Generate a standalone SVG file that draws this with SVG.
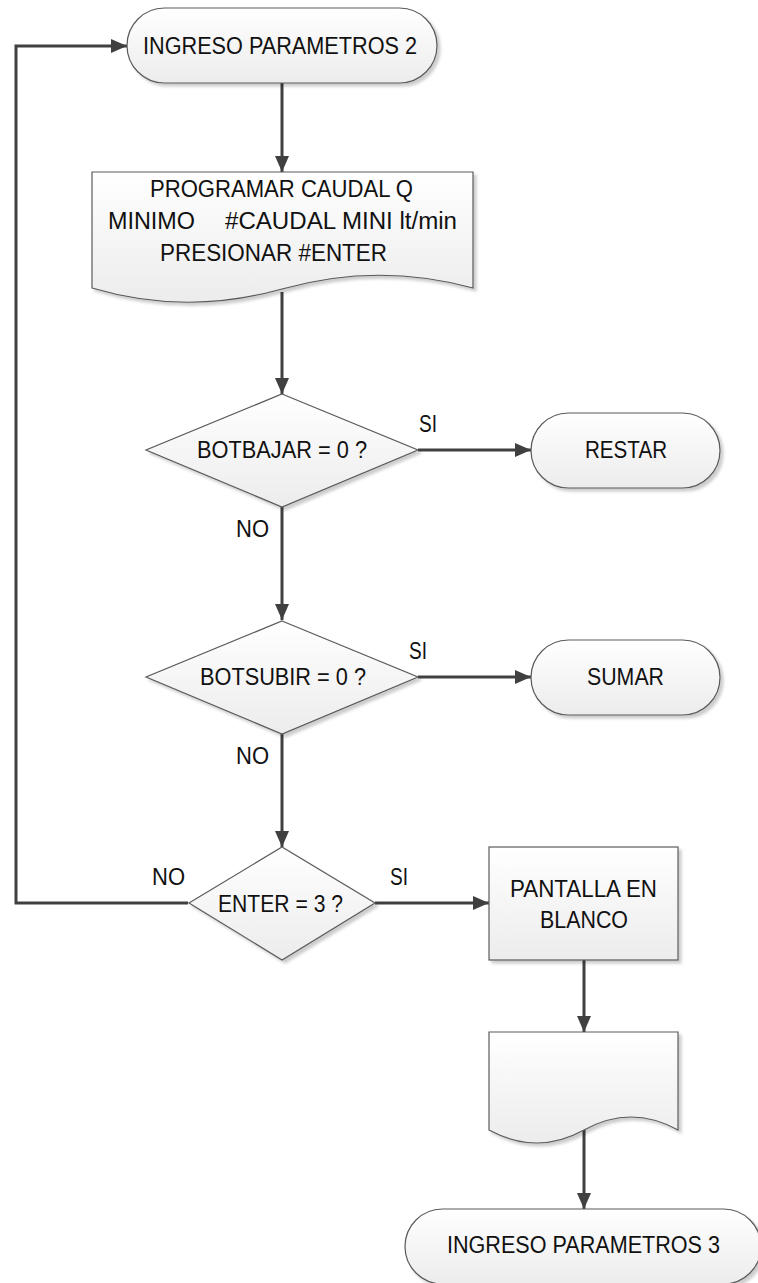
<svg xmlns="http://www.w3.org/2000/svg" width="758" height="1283" viewBox="0 0 758 1283">
  <style>
    .shape { fill: url(#fillGrad); stroke: #5a5a5a; stroke-width: 1.2; filter: url(#shadow); }
    .lbl { font-family: "Liberation Sans", Arial, sans-serif; font-size: 23.5px; fill: #111; }
    .conn { fill: none; stroke: #404040; stroke-width: 3; }
    .arrow { marker-end: url(#arrowHead); }
  </style>
  <defs>
    <linearGradient id="fillGrad" x1="0" y1="0" x2="0" y2="1">
      <stop offset="0" stop-color="#ffffff"/>
      <stop offset="1" stop-color="#ececec"/>
    </linearGradient>
    <filter id="shadow" x="-10%" y="-10%" width="130%" height="130%">
      <feDropShadow dx="3" dy="3" stdDeviation="1.5" flood-color="#000" flood-opacity="0.2"/>
    </filter>
    <marker id="arrowHead" viewBox="0 0 16 14" refX="16" refY="7" markerWidth="16" markerHeight="14" markerUnits="userSpaceOnUse" orient="auto">
      <path d="M0,0 L16,7 L0,14 z" fill="#404040"/>
    </marker>
  </defs>

  <!-- connectors -->
  <g id="connectors">
    <path class="conn arrow" d="M282,83 V172"/>
    <path class="conn arrow" d="M282,292 V394"/>
    <path class="conn arrow" d="M418,450 H531"/>
    <path class="conn arrow" d="M282,507 V620"/>
    <path class="conn arrow" d="M418,677 H531"/>
    <path class="conn arrow" d="M282,734 V847"/>
    <path class="conn arrow" d="M375,903 H489"/>
    <path class="conn arrow" d="M188,903 H16 V46 H127"/>
    <path class="conn arrow" d="M584,960 V1032"/>
    <path class="conn arrow" d="M584,1130 V1209"/>
  </g>

  <!-- edge labels -->
  <g id="edge-labels" class="lbl">
    <text x="419" y="432" textLength="18" lengthAdjust="spacingAndGlyphs">SI</text>
    <text x="236" y="537" textLength="33" lengthAdjust="spacingAndGlyphs">NO</text>
    <text x="409" y="659" textLength="18" lengthAdjust="spacingAndGlyphs">SI</text>
    <text x="236" y="764" textLength="33" lengthAdjust="spacingAndGlyphs">NO</text>
    <text x="152" y="885" textLength="33" lengthAdjust="spacingAndGlyphs">NO</text>
    <text x="390" y="885" textLength="18" lengthAdjust="spacingAndGlyphs">SI</text>
  </g>

  <g id="start">
    <rect class="shape" x="127" y="8" width="310" height="75" rx="37.5" ry="37.5"/>
    <text class="lbl" x="143" y="54" textLength="274" lengthAdjust="spacingAndGlyphs">INGRESO PARAMETROS 2</text>
  </g>

  <g id="program-flow">
    <path class="shape" d="M92,172 H473 V288 Q377.5,262 282,289 T92,288 Z"/>
    <text class="lbl" x="150" y="197" textLength="263" lengthAdjust="spacingAndGlyphs">PROGRAMAR CAUDAL Q</text>
    <text class="lbl" x="108" y="229" textLength="87" lengthAdjust="spacingAndGlyphs">MINIMO</text>
    <text class="lbl" x="225" y="229" textLength="232" lengthAdjust="spacingAndGlyphs">#CAUDAL MINI lt/min</text>
    <text class="lbl" x="160" y="261" textLength="227" lengthAdjust="spacingAndGlyphs">PRESIONAR #ENTER</text>
  </g>

  <g id="check-bajar">
    <path class="shape" d="M282,394 L418,450 L282,507 L146,450 Z"/>
    <text class="lbl" x="197" y="458" textLength="170" lengthAdjust="spacingAndGlyphs">BOTBAJAR = 0 ?</text>
  </g>

  <g id="restar">
    <rect class="shape" x="531" y="413" width="189" height="75" rx="37.5" ry="37.5"/>
    <text class="lbl" x="585" y="458" textLength="82" lengthAdjust="spacingAndGlyphs">RESTAR</text>
  </g>

  <g id="check-subir">
    <path class="shape" d="M282,621 L418,677 L282,734 L146,677 Z"/>
    <text class="lbl" x="200" y="685" textLength="166" lengthAdjust="spacingAndGlyphs">BOTSUBIR = 0 ?</text>
  </g>

  <g id="sumar">
    <rect class="shape" x="531" y="640" width="189" height="75" rx="37.5" ry="37.5"/>
    <text class="lbl" x="587" y="685" textLength="77" lengthAdjust="spacingAndGlyphs">SUMAR</text>
  </g>

  <g id="check-enter">
    <path class="shape" d="M282,847 L375,903 L282,960 L189,903 Z"/>
    <text class="lbl" x="218" y="912" textLength="125" lengthAdjust="spacingAndGlyphs">ENTER = 3 ?</text>
  </g>

  <g id="blank-screen">
    <rect class="shape" x="489" y="847" width="189" height="113"/>
    <text class="lbl" x="510" y="897" textLength="147" lengthAdjust="spacingAndGlyphs">PANTALLA EN</text>
    <text class="lbl" x="540" y="928" textLength="88" lengthAdjust="spacingAndGlyphs">BLANCO</text>
  </g>

  <g id="display">
    <path class="shape" d="M489,1032 H678 V1130 Q631,1104 584,1130 T489,1130 Z"/>
  </g>

  <g id="next">
    <rect class="shape" x="405" y="1209" width="356" height="75" rx="37.5" ry="37.5"/>
    <text class="lbl" x="447" y="1253" textLength="273" lengthAdjust="spacingAndGlyphs">INGRESO PARAMETROS 3</text>
  </g>
</svg>
